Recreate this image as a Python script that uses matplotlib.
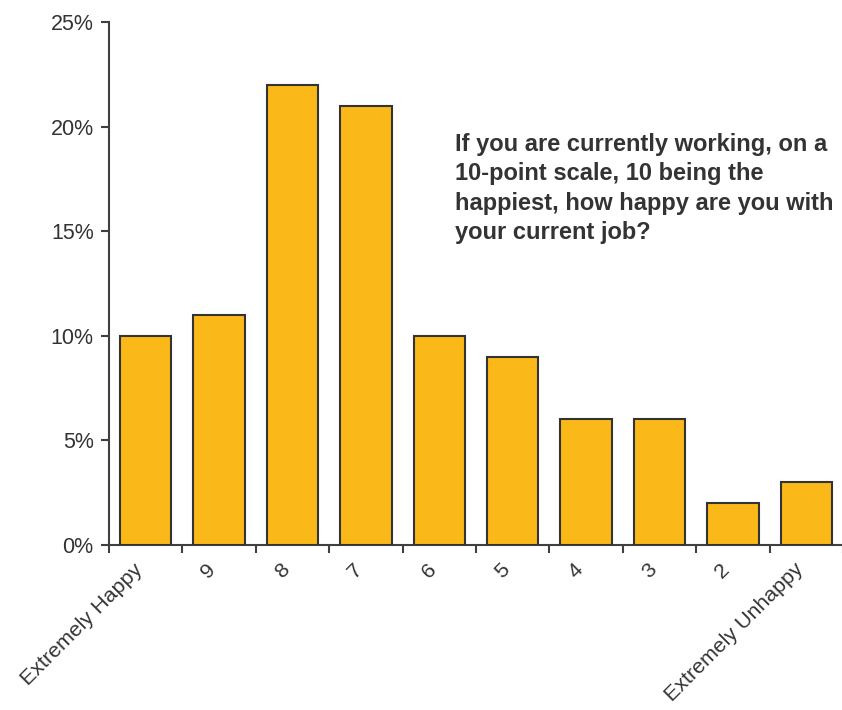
import matplotlib
matplotlib.use("Agg")
import matplotlib.pyplot as plt
import matplotlib.transforms as mtransforms
from matplotlib.ticker import FuncFormatter, MultipleLocator

categories = ["Extremely Happy", "9", "8", "7", "6", "5", "4", "3", "2", "Extremely Unhappy"]
values = [10, 11, 22, 21, 10, 9, 6, 6, 2, 3]
title = "If you are currently working, on a\n10-point scale, 10 being the\nhappiest, how happy are you with\nyour current job?"

plt.rcParams['font.family'] = ['Liberation Sans', 'DejaVu Sans']
fig = plt.figure(figsize=(8.42, 7.10), dpi=100)
W, H = 842, 710
ax = fig.add_axes([109 / W, 1 - 545 / H, (843 - 109) / W, (545 - 22) / H])

x = list(range(len(categories)))
ax.bar(x, values, width=0.7, color="#FBB819", edgecolor="#333333", linewidth=1.5, zorder=3)

ax.set_xlim(-0.5, len(categories) - 0.5)
ax.set_ylim(0, 25)
ax.yaxis.set_major_locator(MultipleLocator(5))
ax.yaxis.set_major_formatter(FuncFormatter(lambda v, p: f"{v:.0f}%"))

ax.set_xticks([i - 0.5 for i in range(len(categories) + 1)])
ax.set_xticklabels([])
ax.set_xticks(x, minor=True)
ax.set_xticklabels(categories, minor=True, rotation=45, ha="right", rotation_mode="anchor",
                   fontsize=15.4, color="#333333")
ax.tick_params(axis="x", which="minor", length=0, pad=12)
ax.tick_params(axis="x", which="major", direction="out", length=6, width=1.5, color="#404040")
ax.tick_params(axis="y", direction="out", length=6, width=1.5, color="#404040",
               labelsize=15.5, labelcolor="#333333", pad=5)

offset = mtransforms.ScaledTranslation(-13 / 100, 2 / 100, fig.dpi_scale_trans)
for lab in ax.get_xticklabels(minor=True):
    lab.set_transform(lab.get_transform() + offset)

for s in ["top", "right"]:
    ax.spines[s].set_visible(False)
for s in ["left", "bottom"]:
    ax.spines[s].set_color("#404040")
    ax.spines[s].set_linewidth(1.5)

fig.text(455 / W, 1 - 133 / H, title, fontsize=17.0, fontweight="bold", color="#333333",
         ha="left", va="top", linespacing=1.36)

fig.savefig("out.png", dpi=100)
